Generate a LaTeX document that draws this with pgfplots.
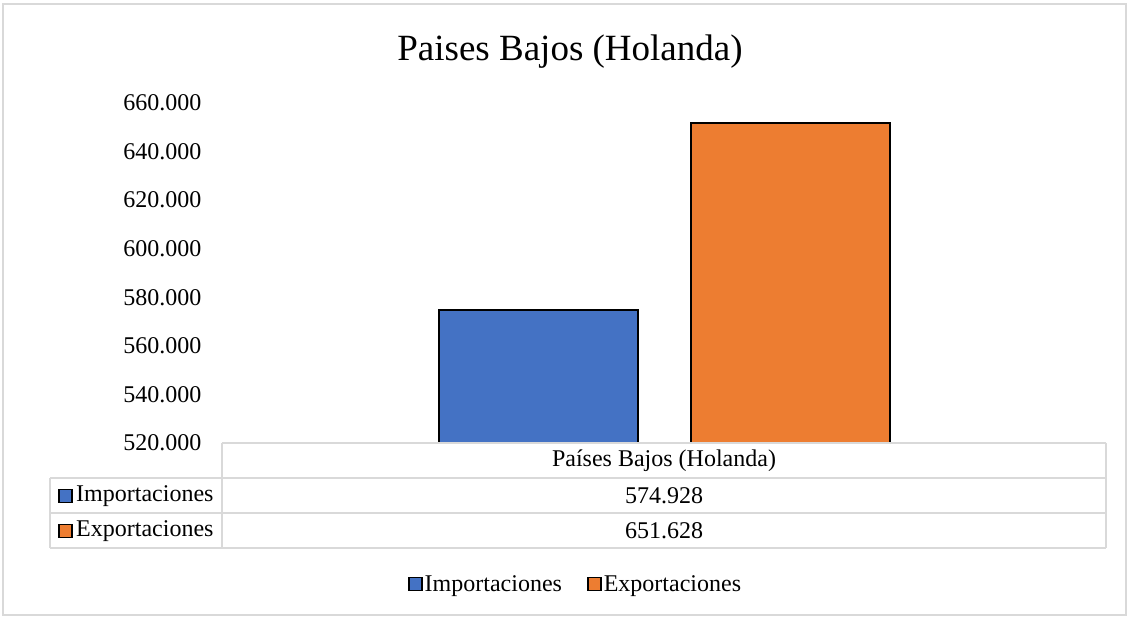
\documentclass[border=0pt]{standalone}
\usepackage{pgfplots}
\pgfplotsset{compat=1.18}
\usepackage{fontspec}
\setmainfont{Liberation Serif}
\definecolor{imp}{HTML}{4472C4}
\definecolor{expo}{HTML}{ED7D31}
\definecolor{gridc}{HTML}{D9D9D9}
\begin{document}
\begin{tikzpicture}[x=1pt,y=1pt]
\path[use as bounding box, fill=white] (0,0) rectangle (1129,618);
\draw[gridc, line width=1.5pt] (3,3) rectangle (1126,614);
\node[font=\fontsize{37}{42}\selectfont] at (570,566) {Paises Bajos (Holanda)};
\begin{axis}[
  at={(222pt,175pt)}, anchor=south west,
  scale only axis, width=884pt, height=340pt,
  xmin=0, xmax=1, ymin=520, ymax=660,
  ytick={520,540,560,580,600,620,640,660},
  yticklabels={520.000,540.000,560.000,580.000,600.000,620.000,640.000,660.000},
  xtick=\empty,
  axis line style={draw=none},
  major tick length=0pt,
  ybar, bar width=199pt,
  yticklabel style={font=\fontsize{24}{28}\selectfont, xshift=-17pt},
  legend style={at={(0.3999,-0.415)}, anchor=center, draw=none, fill=none,
    font=\fontsize{24}{28}\selectfont, legend columns=2,
    nodes={inner sep=2pt},
    /tikz/every even column/.append style={column sep=23pt}},
  legend image code/.code={\draw[#1, draw=black, line width=1.8pt] (0pt,-6.5pt) rectangle (13pt,6.5pt);},
]
\addplot[fill=imp, draw=black, line width=2pt, bar shift=-126pt] coordinates {(0.5,574.928)};
\addplot[fill=expo, draw=black, line width=2pt, bar shift=126pt] coordinates {(0.5,651.628)};
\legend{Importaciones,Exportaciones}
\end{axis}
% data table
\begin{scope}[gridc, line width=1.5pt]
\draw (222,175) -- (1106,175);
\draw (50,140) -- (1106,140);
\draw (50,105) -- (1106,105);
\draw (50,70) -- (1106,70);
\draw (222,175) -- (222,70);
\draw (1106,175) -- (1106,70);
\draw (50,140) -- (50,70);
\end{scope}
\begin{scope}[font=\fontsize{24}{28}\selectfont]
\node at (664,157) {Países Bajos (Holanda)};
\node at (664,122) {574.928};
\node at (664,87) {651.628};
\draw[fill=imp, draw=black, line width=1.8pt] (59,115.5) rectangle (72,128.5);
\draw[fill=expo, draw=black, line width=1.8pt] (59,80.5) rectangle (72,93.5);
\node[anchor=west, inner sep=0pt] at (76,122) {Importaciones};
\node[anchor=west, inner sep=0pt] at (76,87) {Exportaciones};
\end{scope}
\end{tikzpicture}
\end{document}
